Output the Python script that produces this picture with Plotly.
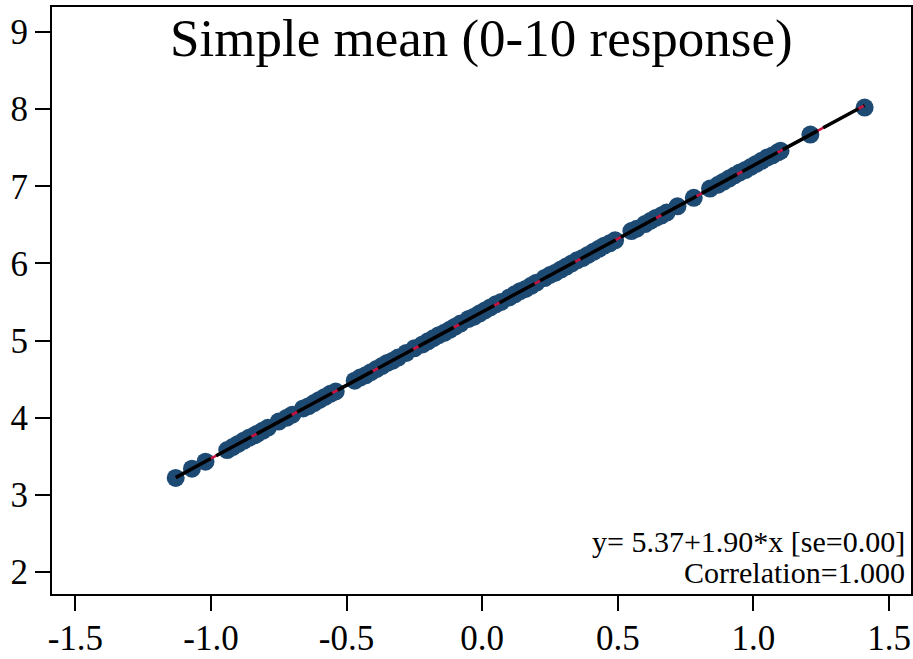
import numpy as np
import plotly.graph_objects as go

title_text = "Simple mean (0-10 response)"
x_vals = [-1.13, -1.07, -1.02, -0.94, -0.92, -0.90, -0.88, -0.86, -0.84, -0.83, -0.81, -0.79,
          -0.75, -0.72, -0.70, -0.66, -0.64, -0.62, -0.60, -0.58, -0.56, -0.54, -0.47, -0.45,
          -0.43, -0.41, -0.39, -0.37, -0.35, -0.33, -0.31, -0.28, -0.25, -0.22, -0.20, -0.18,
          -0.16, -0.14, -0.12, -0.10, -0.08, -0.05, -0.03, -0.01, 0.01, 0.03, 0.05, 0.07,
          0.10, 0.12, 0.14, 0.16, 0.18, 0.20, 0.23, 0.25, 0.27, 0.29, 0.31, 0.33, 0.35, 0.37,
          0.39, 0.41, 0.43, 0.45, 0.47, 0.49, 0.55, 0.57, 0.60, 0.62, 0.64, 0.66, 0.68, 0.72,
          0.78, 0.84, 0.87, 0.89, 0.91, 0.93, 0.95, 0.97, 0.99, 1.01, 1.03, 1.05, 1.07, 1.09,
          1.10, 1.21, 1.41]
y_vals = [3.22, 3.34, 3.43, 3.58, 3.62, 3.66, 3.70, 3.74, 3.77, 3.79, 3.83, 3.87,
          3.95, 4.00, 4.04, 4.12, 4.15, 4.19, 4.23, 4.27, 4.31, 4.34, 4.48, 4.52,
          4.55, 4.59, 4.63, 4.67, 4.71, 4.74, 4.78, 4.84, 4.90, 4.95, 4.99, 5.03,
          5.07, 5.10, 5.14, 5.18, 5.22, 5.28, 5.31, 5.35, 5.39, 5.43, 5.47, 5.50,
          5.56, 5.60, 5.64, 5.67, 5.71, 5.75, 5.81, 5.85, 5.88, 5.92, 5.96, 6.00, 6.04, 6.07,
          6.11, 6.15, 6.19, 6.23, 6.26, 6.30, 6.42, 6.45, 6.51, 6.55, 6.59, 6.62, 6.66, 6.74,
          6.85, 6.97, 7.02, 7.06, 7.10, 7.14, 7.18, 7.21, 7.25, 7.29, 7.33, 7.37, 7.40, 7.44,
          7.46, 7.67, 8.02]
x_ticks = [-1.5, -1.0, -0.5, 0.0, 0.5, 1.0, 1.5]
x_tick_labels = ["-1.5", "-1.0", "-0.5", "0.0", "0.5", "1.0", "1.5"]
y_ticks = [2, 3, 4, 5, 6, 7, 8, 9]
fit_label = "y= 5.37+1.90*x [se=0.00]"
corr_label = "Correlation=1.000"

xa = np.array(x_vals)
ya = np.array(y_vals)
slope, intercept = np.polyfit(xa, ya, 1)
fx = np.array([xa.min(), xa.max()])
fy = intercept + slope * fx

FONT = "Liberation Serif"

fig = go.Figure()
fig.add_trace(go.Scatter(x=x_vals, y=y_vals, mode="markers",
                         marker=dict(size=18, color="#1d4a72", line=dict(width=0)),
                         hoverinfo="x+y"))
fig.add_trace(go.Scatter(x=fx, y=fy, mode="lines",
                         line=dict(color="#c8103c", width=2.5)))
fig.add_trace(go.Scatter(x=fx, y=fy, mode="lines",
                         line=dict(color="black", width=3.5, dash="40px,6px")))

fig.add_annotation(x=0.5, xref="paper", y=1.0, yref="paper", yanchor="top", yshift=0,
                   text=title_text, showarrow=False,
                   font=dict(family=FONT, size=53, color="black"))
fig.add_annotation(x=1, xref="paper", xanchor="right", xshift=-4, y=0, yref="paper",
                   yanchor="bottom", yshift=34, text=fit_label, showarrow=False,
                   font=dict(family=FONT, size=30, color="black"))
fig.add_annotation(x=1, xref="paper", xanchor="right", xshift=-4, y=0, yref="paper",
                   yanchor="bottom", yshift=3, text=corr_label, showarrow=False,
                   font=dict(family=FONT, size=30, color="black"))

axis_common = dict(showgrid=False, zeroline=False, showline=True, linecolor="black",
                   linewidth=2, ticks="outside", ticklen=15, tickwidth=2, tickcolor="black",
                   mirror=True, automargin=False,
                   tickfont=dict(family=FONT, size=35, color="black"))
fig.update_xaxes(range=[-1.586, 1.581], tickvals=x_ticks, ticktext=x_tick_labels,
                 ticklabelstandoff=-3, **axis_common)
fig.update_yaxes(range=[1.715, 9.324], tickvals=y_ticks, **axis_common)

fig.update_layout(width=913, height=659, margin=dict(l=52, r=2, t=7, b=65),
                  paper_bgcolor="white", plot_bgcolor="white", showlegend=False,
                  font=dict(family=FONT))

fig.write_html("out.html")
